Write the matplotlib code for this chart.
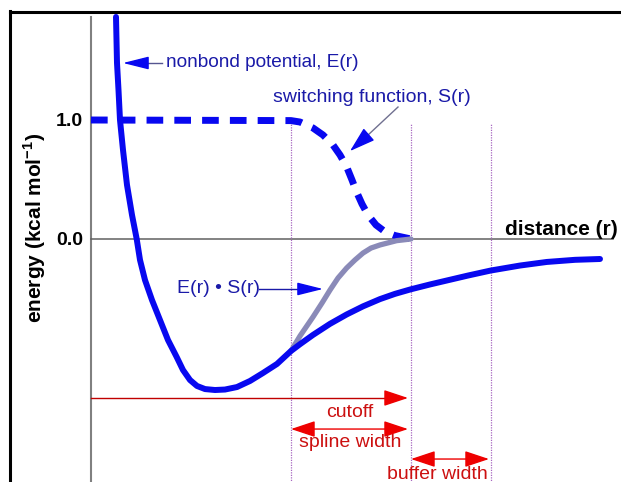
import matplotlib
matplotlib.use("Agg")
import matplotlib.pyplot as plt
from matplotlib.lines import Line2D

plt.rcParams['font.family'] = ['Liberation Sans', 'DejaVu Sans']
plt.rcParams['mathtext.fontset'] = 'custom'
plt.rcParams['mathtext.rm'] = 'Liberation Sans'
plt.rcParams['mathtext.bf'] = 'Liberation Sans:bold'

# nonbond potential E(r)
r_energy = [0.625, 0.6375, 0.65, 0.6875, 0.725, 0.8, 0.9, 1.025, 1.1425, 1.225, 1.35,
            1.525, 1.725, 1.925, 2.1425, 2.3, 2.475, 2.65, 2.85, 3.1, 3.35, 3.65, 3.975,
            4.3, 4.65, 5.0, 5.225, 5.55, 5.975, 6.3925, 6.8, 7.225, 7.6, 7.9925, 8.475,
            8.8925, 9.425, 9.9925, 10.725, 11.3925, 12.1, 12.725]
energy = [1.866, 1.672, 1.479, 1.252, 1.0, 0.748, 0.454, 0.202, 0.0, -0.176, -0.345,
          -0.513, -0.681, -0.849, -0.992, -1.101, -1.185, -1.235, -1.261, -1.269, -1.265,
          -1.244, -1.193, -1.126, -1.050, -0.941, -0.884, -0.806, -0.713, -0.634, -0.566,
          -0.505, -0.461, -0.423, -0.382, -0.349, -0.307, -0.265, -0.223, -0.193, -0.175,
          -0.168]

# switching function S(r)
r_switch = [0.0, 5.0, 5.225, 5.55, 5.8, 6.05, 6.225, 6.39, 6.525, 6.64, 6.775, 6.925,
            7.125, 7.35, 7.6, 7.89, 8.0]
switch = [1.0, 0.995, 0.983, 0.933, 0.874, 0.790, 0.706, 0.608, 0.496, 0.395, 0.294,
          0.202, 0.118, 0.061, 0.029, 0.008, 0.0]

# switched potential E(r) * S(r)
r_product = [5.0, 5.225, 5.55, 5.775, 5.975, 6.175, 6.39, 6.6, 6.8, 7.0, 7.225, 7.64, 8.0]
product = [-0.941, -0.815, -0.655, -0.538, -0.429, -0.328, -0.244, -0.176, -0.118,
           -0.076, -0.05, -0.014, 0.0]

r_on = 5.0      # spline start
r_cut = 8.0     # cutoff
r_buffer = 10.0 # cutoff + buffer

tick_values = [1.0, 0.0]
tick_labels = ["1.0", "0.0"]

blue = '#0808f0'
text_blue = '#1a1aa8'
red = '#ee0000'
text_red = '#cc1010'

fig = plt.figure(figsize=(6.21, 4.82), dpi=100)
ax = fig.add_axes([0, 0, 1, 1])
ax.set_xlim(-2.275, 13.25)
ax.set_ylim(-2.042, 2.0084)
ax.axis('off')

# frame edges
fig.add_artist(Line2D([10 / 621, 10 / 621], [0, 1 - 11 / 482], color='black', lw=2.2))
fig.add_artist(Line2D([10 / 621, 1], [1 - 12 / 482, 1 - 12 / 482], color='black', lw=2.2))

# axes lines
ax.plot([0, 0], [-2.1, 1.866], color='#808080', lw=1.5)
ax.plot([0, 13.05], [0, 0], color='#606060', lw=1.1)

for r in (r_on, r_cut, r_buffer):
    ax.plot([r, r], [-2.1, 0.97], color='#a868c0', lw=0.9, ls=(0, (1, 1)))

ax.plot(r_switch, switch, color=blue, lw=5, dashes=(2.4, 1.6), solid_capstyle='butt',
        dash_capstyle='butt')
ax.plot(r_product, product, color='#8a8ab8', lw=3.8, solid_capstyle='round')
ax.plot(r_energy, energy, color=blue, lw=4.3, solid_joinstyle='round', solid_capstyle='round')

# tick labels and axis titles
for v, lab in zip(tick_values, tick_labels):
    ax.text(-0.2, v - 0.015, lab, ha='right', va='center', fontsize=14, fontweight='bold')
ax.text(-1.4, 0.092, r'energy (kcal mol$^{\mathbf{-1}}$)', rotation=90, ha='center', va='center',
        fontsize=15, fontweight='bold')
ax.text(13.175, 0.084, 'distance (r)', ha='right', va='center', fontsize=15, fontweight='bold')

# curve labels
ax.text(1.875, 1.479, 'nonbond potential, E(r)', ha='left', va='center', fontsize=13.7, color=text_blue)
ax.plot([1.3, 1.775], [1.479, 1.479], color='#555590', lw=1)
ax.annotate('', xy=(0.8, 1.479), xytext=(1.3, 1.479),
            arrowprops=dict(arrowstyle='-|>,head_length=0.8,head_width=0.2', mutation_scale=20,
                            color=blue, shrinkA=0, shrinkB=0))

ax.text(4.55, 1.193, 'switching function, S(r)', ha='left', va='center', fontsize=14, color=text_blue)
ax.plot([7.675, 6.85], [1.109, 0.85], color='#707090', lw=1)
ax.annotate('', xy=(6.475, 0.739), xytext=(6.9, 0.865),
            arrowprops=dict(arrowstyle='-|>,head_length=0.8,head_width=0.25', mutation_scale=20,
                            color=blue, shrinkA=0, shrinkB=0))

ax.text(2.15, -0.42, 'E(r) \u2022 S(r)', ha='left', va='center', fontsize=14, color=text_blue)
ax.plot([4.2, 5.4], [-0.42, -0.42], color=text_blue, lw=1)
ax.annotate('', xy=(5.8, -0.42), xytext=(5.3, -0.42),
            arrowprops=dict(arrowstyle='-|>,head_length=0.8,head_width=0.2', mutation_scale=20,
                            color=blue, shrinkA=0, shrinkB=0))

# cutoff and width markers
ax.plot([0, 7.5], [-1.336, -1.336], color='#c00000', lw=1)
ax.annotate('', xy=(r_cut - 0.075, -1.336), xytext=(7.4, -1.336),
            arrowprops=dict(arrowstyle='-|>,head_length=0.75,head_width=0.25', mutation_scale=20,
                            color=red, shrinkA=0, shrinkB=0))
ax.text(6.475, -1.462, 'cutoff', ha='center', va='center', fontsize=14, color=text_red)

ax.annotate('', xy=(r_cut - 0.075, -1.597), xytext=(r_on, -1.597),
            arrowprops=dict(arrowstyle='<|-|>,head_length=0.75,head_width=0.25', mutation_scale=20,
                            color=red, lw=1, shrinkA=0, shrinkB=0))
ax.text(6.475, -1.714, 'spline width', ha='center', va='center', fontsize=14, color=text_red)

ax.annotate('', xy=(r_buffer - 0.05, -1.849), xytext=(r_cut, -1.849),
            arrowprops=dict(arrowstyle='<|-|>,head_length=0.75,head_width=0.25', mutation_scale=20,
                            color=red, lw=1, shrinkA=0, shrinkB=0))
ax.text(8.65, -1.975, 'buffer width', ha='center', va='center', fontsize=14, color=text_red)

fig.savefig('out.png', dpi=100)
